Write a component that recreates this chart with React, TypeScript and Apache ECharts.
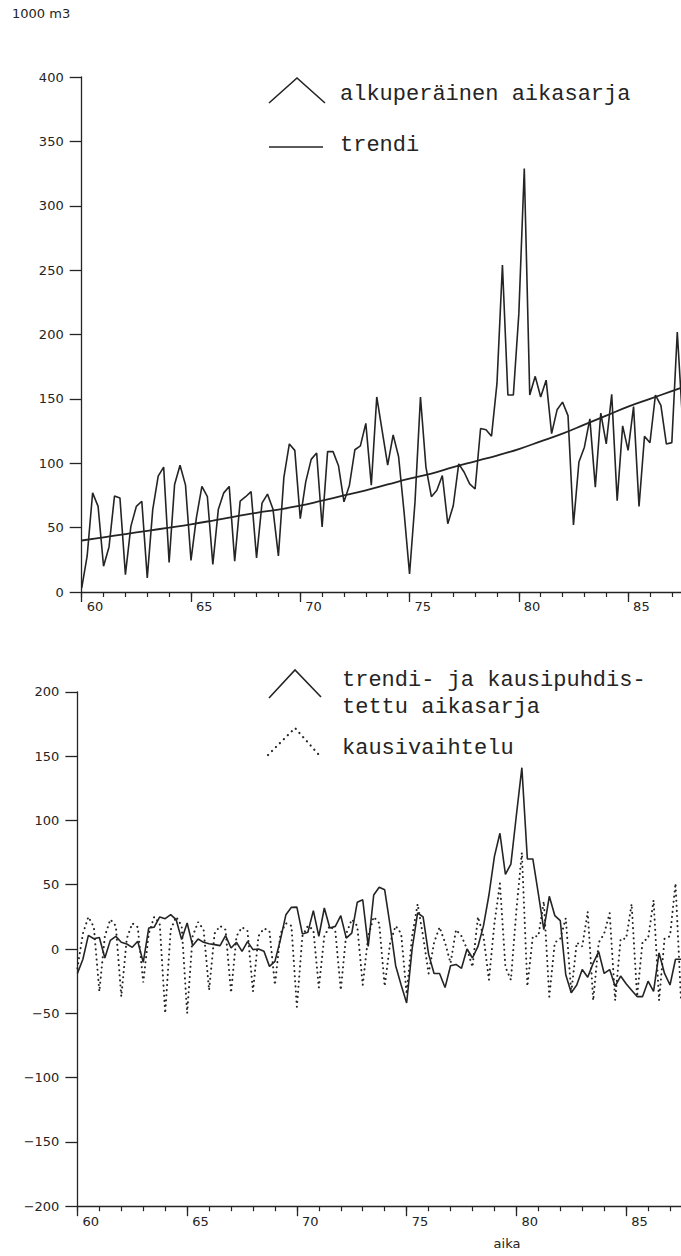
import React, { useEffect, useRef } from "react";
import * as echarts from "echarts";

// Quarterly series, first quarter of 1960 onwards
const START_YEAR = 60;

// alkuperäinen aikasarja (1000 m3), four quarters per row
const original = [
  3, 28, 77, 66.5,
  20, 35, 74.5, 73,
  13.5, 51, 66.5, 70.5,
  11, 64, 90, 97,
  23, 83.5, 98.5, 83,
  24.5, 58, 82, 74,
  21.5, 64, 77, 82,
  24, 70.5, 74, 78,
  26.5, 69, 76, 64.5,
  28, 89, 115, 110,
  57, 85.5, 103, 108,
  50.5, 109, 109, 98,
  70, 83, 110.5, 113.5,
  131, 83, 151.5, 125,
  98.5, 122, 105, 62,
  14, 70, 151.5, 97,
  74, 79, 90.5, 53,
  67, 99.5, 93, 84,
  80, 127, 126, 121,
  162, 254, 153, 153,
  216, 329, 153, 167.5,
  151.5, 164.5, 123, 141.5,
  147.5, 137, 52, 101,
  112.5, 134.5, 81.5, 139,
  115, 153.5, 71, 129,
  110, 144, 66.5, 121,
  116, 153, 145, 115,
  116, 202, 130,
];

// trendi, yearly readings
const trendYears = [60, 61, 62, 63, 64, 65, 66, 67, 68, 69, 70, 71, 72, 73, 74, 75, 76, 77, 78, 79, 80, 81, 82, 83, 84, 85, 86, 87, 88];
const trend = [40, 42.5, 45, 47.5, 50, 52.6, 55.5, 58.5, 61.5, 64, 67, 71, 75, 79, 83.5, 88, 92, 97, 101.5, 106, 111, 117, 123, 130, 137, 144, 150, 156, 162];

// trendi- ja kausipuhdistettu aikasarja
const adjusted = [
  -19, -8, 10.6, 8,
  9, -7, 6.7, 9.8,
  5.2, 3.9, 1.3, 6,
  -10.4, 16.3, 17, 24.9,
  23.6, 26.7, 22.8, 7.3,
  20.2, 2.6, 7.8, 5.2,
  4.1, 3.4, 2.6, 10.4,
  0.8, 5.2, -1.8, 5.7,
  -0.5, 0, -1.8, -13.5,
  -9.6, 7.3, 26.7, 32.4,
  32.6, 11.7, 13, 29.8,
  9.8, 31.9, 16.3, 17.6,
  25.9, 8.5, 12.4, 36.3,
  38.3, 2, 42, 48,
  46, 18, -13, -28,
  -42, 0, 28, 25,
  -4, -19, -19, -30,
  -13, -12, -15, 0,
  -7, 2, 18, 42,
  72, 90, 58, 66,
  104, 141, 70, 70,
  43, 15, 41, 26,
  22, -20, -34, -28,
  -16, -22, -11, -2,
  -19, -16, -29, -21,
  -27, -32, -37, -37,
  -25, -33, -3, -19,
  -28, -8, -8,
];

// kausivaihtelu
const seasonal = [
  -15, 12, 25, 17,
  -33, 10, 23, 18,
  -37, 8, 20, 17,
  -26, 12, 25, 20,
  -50, 15, 25, 18,
  -50, 10, 21, 15,
  -32, 12, 18, 15,
  -34, 10, 17, 14,
  -33, 10, 16, 14,
  -28, 12, 20, 18,
  -45, 10, 18, 15,
  -30, 10, 18, 14,
  -32, 12, 23, 18,
  -28, 10, 25, 20,
  -29, 5, 18, 12,
  -35, 10, 35, 10,
  -19, 5, 17, 5,
  -11, 15, 10, 0,
  -14, 25, 10, -24,
  20, 51, -14, -24,
  30, 75, -29, 10,
  10, 37, -37, 5,
  8, 24, -34, 5,
  2, 29, -40, 5,
  12, 28, -40, 8,
  8, 35, -37, 6,
  8, 38, -40, 8,
  10, 51, -40,
];

const topTicks = [0, 50, 100, 150, 200, 250, 300, 350, 400];
const bottomTicks = [-200, -150, -100, -50, 0, 50, 100, 150, 200];
const yearLabels = [60, 65, 70, 75, 80, 85];
const yearTicks = [60, 61, 62, 63, 64, 65, 66, 67, 68, 69, 70, 71, 72, 73, 74, 75, 76, 77, 78, 79, 80, 81, 82, 83, 84, 85, 86, 87];

const INK = "#242424";
const AXIS_FONT = "DejaVu Sans";
const TYPE_FONT = "Liberation Mono";

const quarterly = (values: number[]) =>
  values.map((v, i) => [START_YEAR + i / 4, v]);

// main x axis: line, long ticks at five-year marks and the year labels
function xMain(gridIndex: number, max: number, labelMargin: number) {
  return {
    type: "value",
    gridIndex,
    position: "bottom",
    min: 60,
    max,
    interval: 1,
    axisLine: { show: true, onZero: false, lineStyle: { color: INK, width: 1.3 } },
    axisTick: { show: true, length: 10, customValues: yearLabels, lineStyle: { color: INK, width: 1.3 } },
    splitLine: { show: false },
    axisLabel: {
      show: true,
      customValues: yearLabels,
      margin: labelMargin,
      align: "left",
      padding: [0, 0, 0, 5],
      color: INK,
      fontFamily: AXIS_FONT,
      fontSize: 13,
    },
  };
}

// companion x axis: short ticks for every year
function xMinor(gridIndex: number, max: number) {
  return {
    type: "value",
    gridIndex,
    position: "bottom",
    offset: 0,
    min: 60,
    max,
    interval: 1,
    axisLine: { show: false, onZero: false },
    axisTick: { show: true, length: 5, customValues: yearTicks, lineStyle: { color: INK, width: 1.2 } },
    splitLine: { show: false },
    axisLabel: { show: false },
  };
}

function yAxisFor(gridIndex: number, min: number, max: number, ticks: number[]) {
  return {
    type: "value",
    gridIndex,
    min,
    max,
    interval: 50,
    axisLine: { show: true, onZero: false, lineStyle: { color: INK, width: 1.3 } },
    axisTick: { show: true, length: 12, lineStyle: { color: INK, width: 1.3 } },
    splitLine: { show: false },
    axisLabel: {
      show: true,
      margin: 18,
      color: INK,
      fontFamily: AXIS_FONT,
      fontSize: 13,
      formatter: (v: number) =>
        ticks.includes(v) ? String(v).replace("-", "\u2212") : "",
    },
  };
}

export default function App() {
  const ref = useRef<HTMLDivElement>(null);

  useEffect(() => {
    if (!ref.current) return;
    const chart = echarts.init(ref.current, undefined, { renderer: "svg" });
    const topMax = 87.42;
    const bottomMax = 87.5;

    chart.setOption({
      animation: false,
      backgroundColor: "#ffffff",
      grid: [
        { left: 81.7, top: 77, right: 0, height: 515 },
        { left: 77.4, top: 691.8, right: 0, height: 514.4 },
      ],
      xAxis: [xMain(0, topMax, 8), xMain(1, bottomMax, 9), xMinor(0, topMax), xMinor(1, bottomMax)],
      yAxis: [yAxisFor(0, 0, 400, topTicks), yAxisFor(1, -200, 200, bottomTicks)],
      series: [
        {
          name: "alkuperäinen aikasarja",
          type: "line",
          xAxisIndex: 0,
          yAxisIndex: 0,
          data: quarterly(original),
          symbol: "none",
          lineStyle: { color: INK, width: 1.6 },
        },
        {
          name: "trendi",
          type: "line",
          xAxisIndex: 0,
          yAxisIndex: 0,
          data: trendYears.map((y, i) => [y, trend[i]]),
          symbol: "none",
          smooth: 0.4,
          lineStyle: { color: INK, width: 1.8 },
        },
        {
          name: "kausivaihtelu",
          type: "line",
          xAxisIndex: 1,
          yAxisIndex: 1,
          data: quarterly(seasonal),
          symbol: "none",
          lineStyle: { color: INK, width: 2, type: [0.1, 5], cap: "round" },
        },
        {
          name: "trendi- ja kausipuhdistettu aikasarja",
          type: "line",
          xAxisIndex: 1,
          yAxisIndex: 1,
          data: quarterly(adjusted),
          symbol: "none",
          lineStyle: { color: INK, width: 1.6 },
        },
      ],
      graphic: [
        {
          type: "text",
          x: 12,
          y: 13,
          style: { text: "1000 m3", font: `13px "${AXIS_FONT}"`, fill: INK, verticalAlign: "middle" },
        },
        {
          type: "polyline",
          shape: { points: [[269, 103], [297, 78], [325, 103]] },
          style: { stroke: INK, lineWidth: 1.6, fill: "none" },
        },
        {
          type: "text",
          x: 340,
          y: 94,
          style: { text: "alkuperäinen aikasarja", font: `22px "${TYPE_FONT}"`, fill: INK, verticalAlign: "middle" },
        },
        {
          type: "line",
          shape: { x1: 269, y1: 147, x2: 323, y2: 147 },
          style: { stroke: INK, lineWidth: 1.6 },
        },
        {
          type: "text",
          x: 340,
          y: 145,
          style: { text: "trendi", font: `22px "${TYPE_FONT}"`, fill: INK, verticalAlign: "middle" },
        },
        {
          type: "polyline",
          shape: { points: [[269, 698], [295, 670], [321, 697]] },
          style: { stroke: INK, lineWidth: 1.6, fill: "none" },
        },
        {
          type: "text",
          x: 342,
          y: 680,
          style: { text: "trendi- ja kausipuhdis-", font: `22px "${TYPE_FONT}"`, fill: INK, verticalAlign: "middle" },
        },
        {
          type: "text",
          x: 342,
          y: 707,
          style: { text: "tettu aikasarja", font: `22px "${TYPE_FONT}"`, fill: INK, verticalAlign: "middle" },
        },
        {
          type: "polyline",
          shape: { points: [[268, 755], [295, 728], [320, 756]] },
          style: { stroke: INK, lineWidth: 2.2, fill: "none", lineDash: [0.1, 5.5], lineCap: "round" },
        },
        {
          type: "text",
          x: 342,
          y: 748,
          style: { text: "kausivaihtelu", font: `22px "${TYPE_FONT}"`, fill: INK, verticalAlign: "middle" },
        },
        {
          type: "text",
          x: 507,
          y: 1243,
          style: { text: "aika", font: `13px "${AXIS_FONT}"`, fill: INK, align: "center", verticalAlign: "middle" },
        },
      ],
    });

    return () => chart.dispose();
  }, []);

  return (
    <div
      ref={ref}
      style={{ position: "absolute", left: 0, top: 0, width: 681, height: 1256, background: "#fff" }}
    />
  );
}
